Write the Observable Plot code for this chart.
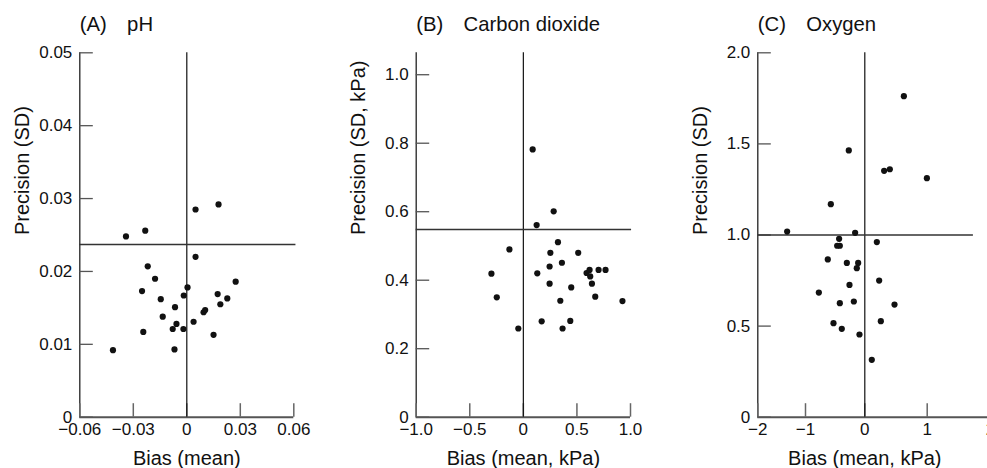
<!DOCTYPE html>
<html><head><meta charset="utf-8">
<script src="https://cdn.jsdelivr.net/npm/d3@7"></script>
<script src="https://cdn.jsdelivr.net/npm/@observablehq/plot@0.6"></script>
<style>
html,body{margin:0;padding:0;background:#fff;overflow:hidden;}
#chart{position:relative;width:987px;height:468px;}
#chart svg{position:absolute;top:0;overflow:visible;}
</style></head><body><div id="chart"></div>
<script>
// ---- Data ----
const panelTitles = ["(A)\u2003pH", "(B)\u2003Carbon dioxide", "(C)\u2003Oxygen"];
const xLabels = ["Bias (mean)", "Bias (mean, kPa)", "Bias (mean, kPa)"];
const yLabels = ["Precision (SD)", "Precision (SD, kPa)", "Precision (SD)"];

const phBias = [-0.0341,-0.0233,0.0049,0.0178,0.0049,-0.0219,-0.0178,-0.0251,0.0004,-0.0017,-0.0146,-0.0066,-0.0135,-0.0058,-0.0079,-0.0019,-0.0244,0.0038,0.0094,0.0103,0.0173,0.0188,0.0227,0.0274,0.0150,-0.0414,-0.0069];
const phSD   = [0.0248,0.0256,0.0285,0.0292,0.0220,0.0207,0.0190,0.0173,0.0178,0.0167,0.0162,0.0151,0.0138,0.0128,0.0121,0.0121,0.0117,0.0131,0.0144,0.0147,0.0169,0.0155,0.0163,0.0186,0.0113,0.0092,0.0093];

const co2Bias = [0.087,0.283,0.124,0.323,-0.130,0.252,0.512,0.360,0.245,-0.298,0.130,0.590,0.618,0.624,0.702,0.767,0.640,0.245,0.447,0.671,-0.248,0.345,0.925,0.171,0.438,-0.047,0.366];
const co2SD   = [0.782,0.601,0.561,0.511,0.490,0.480,0.480,0.451,0.440,0.419,0.420,0.421,0.430,0.411,0.430,0.430,0.390,0.390,0.379,0.352,0.350,0.340,0.339,0.280,0.281,0.259,0.259];

const o2Bias = [0.626,-0.270,0.310,0.401,0.995,-0.573,-1.385,-0.163,-0.433,0.193,-0.466,-0.421,-0.624,-0.303,-0.112,-0.135,0.230,-0.258,-0.775,-0.421,-0.185,0.476,-0.528,0.257,-0.388,-0.090,0.112];
const o2SD   = [1.762,1.464,1.352,1.361,1.312,1.169,1.019,1.012,0.979,0.961,0.941,0.941,0.866,0.847,0.847,0.818,0.750,0.726,0.684,0.626,0.635,0.618,0.516,0.527,0.485,0.454,0.315];

const meanSD = [0.0237, 0.548, 1.0];

const xTicksA = [-0.06,-0.03,0,0.03,0.06], xTickLabelsA = ["\u22120.06","\u22120.03","0","0.03","0.06"];
const yTicksA = [0,0.01,0.02,0.03,0.04,0.05], yTickLabelsA = ["0","0.01","0.02","0.03","0.04","0.05"];
const xTicksB = [-1,-0.5,0,0.5,1], xTickLabelsB = ["\u22121.0","\u22120.5","0","0.5","1.0"];
const yTicksB = [0,0.2,0.4,0.6,0.8,1.0], yTickLabelsB = ["0","0.2","0.4","0.6","0.8","1.0"];
const xTicksC = [-2,-1,0,1,2], xTickLabelsC = ["\u22122","\u22121","0","1","2"];
const yTicksC = [0,0.5,1.0,1.5,2.0], yTickLabelsC = ["0","0.5","1.0","1.5","2.0"];

// ---- Drawing ----
const font = "'Liberation Sans', Arial, Helvetica, sans-serif";
function build(cfg, xScale) {
  const pts = cfg.bias.map((b, i) => ({bias: b, sd: cfg.sd[i]}));
  const fmt = (ticks, labels) => d => labels[ticks.indexOf(d)];
  const x0 = cfg.xt[0];
  return Plot.plot({
    width: cfg.width, height: 468,
    marginLeft: cfg.ml, marginRight: cfg.mr, marginTop: 52.3, marginBottom: 51.3,
    style: {fontFamily: font, background: "transparent", overflow: "visible"},
    x: xScale,
    y: cfg.y,
    marks: [
      Plot.ruleY([0], {stroke: "#555", strokeWidth: 2}),
      Plot.ruleX([x0], {stroke: "#222", strokeWidth: 1.3}),
      // inward tick marks
      Plot.ruleX(cfg.xt, {x: d => d, y1: 0, y2: 0, insetBottom: 13.5, stroke: "#666", strokeWidth: 1.5}),
      Plot.ruleY(cfg.yt, {y: d => d, x1: x0, x2: x0, insetRight: -13.5, stroke: "#555", strokeWidth: 1.3}),
      Plot.axisX({ticks: cfg.xt, tickFormat: fmt(cfg.xt, cfg.xl), tickSize: 0, tickPadding: 6,
        fill: "#111", fontSize: 17, label: null}),
      Plot.axisY({ticks: cfg.yt, tickFormat: fmt(cfg.yt, cfg.yl), tickSize: 0, tickPadding: 7.5,
        fill: "#111", fontSize: 17, label: null}),
      Plot.ruleX([0], {stroke: "#111", strokeWidth: 1.2}),
      Plot.ruleY([cfg.mean], {x1: cfg.meanX1, x2: cfg.meanX2, stroke: "#333", strokeWidth: 1.6}),
      Plot.dot(pts, {x: "bias", y: "sd", r: 3.1, fill: "#111", stroke: null}),
      Plot.text([cfg.title], {frameAnchor: "top-left", textAnchor: "start", lineAnchor: "top", dy: -36.6, fontSize: 20.3, fill: "#111"}),
      Plot.text([cfg.xlabel], {x: () => 0, frameAnchor: "bottom", lineAnchor: "top", dy: 33.5, fontSize: 20, fill: "#111"}),
      Plot.text([cfg.ylabel], {frameAnchor: "left", rotate: -90, lineAnchor: "top", dx: -65, fontSize: 20, fill: "#111"})
    ]
  });
}
function panel(cfg) {
  let svg;
  try {
    svg = build(cfg, cfg.x);
    if (cfg.check) {
      const s = svg.scale("x");
      if (Math.abs(s.apply(0) - cfg.check) > 1.5 || !isFinite(s.apply(0))) svg = build(cfg, cfg.xFallback);
    }
  } catch (e) {
    svg = build(cfg, cfg.xFallback || cfg.x);
  }
  svg.style.left = cfg.left + "px";
  document.getElementById("chart").appendChild(svg);
}

panel({left: 0, width: 330, ml: 79.3, mr: 36.7,
  x: {domain: [-0.06, 0.06]}, y: {domain: [0, 0.05]},
  xt: xTicksA, xl: xTickLabelsA, yt: yTicksA, yl: yTickLabelsA,
  bias: phBias, sd: phSD, mean: meanSD[0], meanX1: -0.06, meanX2: 0.0612,
  title: panelTitles[0], xlabel: xLabels[0], ylabel: yLabels[0]});

panel({left: 330, width: 330, ml: 85.7, mr: 30,
  x: {domain: [-1, 1]}, y: {domain: [0, 1.064]},
  xt: xTicksB, xl: xTickLabelsB, yt: yTicksB, yl: yTickLabelsB,
  bias: co2Bias, sd: co2SD, mean: meanSD[1], meanX1: -1, meanX2: 1.01,
  title: panelTitles[1], xlabel: xLabels[1], ylabel: yLabels[1]});

// Oxygen panel: the printed axis has uneven tick spacing; follow it piecewise.
const oxTickPx = [97.3, 145, 204.3, 266.7, 330];
const oxPiece = d3.piecewise(d3.interpolateNumber, oxTickPx);
panel({left: 660, width: 327, ml: 97.3, mr: 0,
  x: {domain: [-2, 2], range: [97.3, 330], interpolate: (a, b) => t => oxPiece(t)},
  xFallback: {domain: [-2, 2], range: [97.3, 330]},
  check: 204.3,
  y: {domain: [0, 2]},
  xt: xTicksC, xl: xTickLabelsC, yt: yTicksC, yl: yTickLabelsC,
  bias: o2Bias, sd: o2SD, mean: meanSD[2], meanX1: -2, meanX2: 1.73,
  title: panelTitles[2], xlabel: xLabels[2], ylabel: yLabels[2]});
</script>
</body></html>
